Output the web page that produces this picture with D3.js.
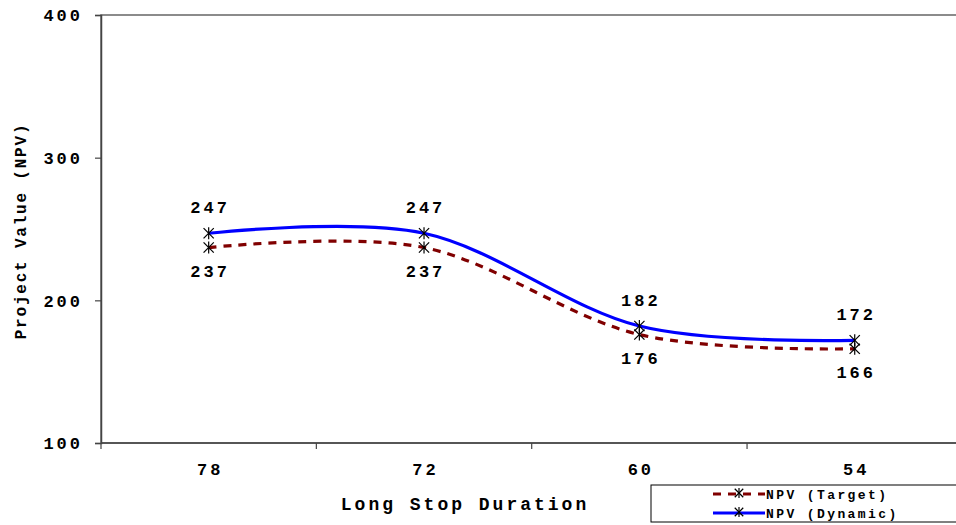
<!DOCTYPE html>
<html>
<head>
<meta charset="utf-8">
<script src="https://cdn.jsdelivr.net/npm/d3@7"></script>
<style>
  html, body { margin: 0; padding: 0; background: #fff; }
  svg { display: block; }
</style>
</head>
<body>
<svg id="chart" width="956" height="525"></svg>
<script>
// Long stop duration scenarios (months) and resulting project NPV
const categories = ["78", "72", "60", "54"];
const npvTarget = [237, 237, 176, 166];
const npvDynamic = [247, 247, 182, 172];
const yTicks = [100, 200, 300, 400];

const FONT = "'Liberation Mono', 'Courier New', Courier, 'DejaVu Sans Mono', monospace";

const svg = d3.select("#chart");
const plot = { left: 101, top: 15, right: 962.4, bottom: 443 };

const x = d3.scaleBand().domain(categories).range([plot.left, plot.right]).padding(0);
const y = d3.scaleLinear().domain([100, 400]).range([plot.bottom, plot.top]);
const cx = c => x(c) + x.bandwidth() / 2;

function styleText(sel, size, spacing) {
  return sel.style("font-family", FONT).style("font-weight", "bold")
    .style("font-size", size + "px").style("letter-spacing", spacing + "px")
    .style("fill", "#000");
}

// plot frame
svg.append("rect")
  .attr("x", plot.left).attr("y", plot.top)
  .attr("width", plot.right - plot.left).attr("height", plot.bottom - plot.top)
  .attr("fill", "none").attr("stroke", "#666").attr("stroke-width", 1.5);

// y axis
const yAxis = svg.append("g").attr("transform", `translate(${plot.left},0)`)
  .call(d3.axisLeft(y).tickValues(yTicks).tickSize(6).tickPadding(12).tickFormat(d3.format("d")));
yAxis.attr("font-family", null).attr("font-size", null);
yAxis.select(".domain").attr("stroke", "#444").attr("stroke-width", 1.5);
yAxis.selectAll(".tick line").attr("stroke", "#444").attr("stroke-width", 1.2);
styleText(yAxis.selectAll(".tick text"), 17, 3).attr("dy", "0.35em");

// x axis: category labels centred in bands, tick marks at band boundaries
const xAxis = svg.append("g").attr("transform", `translate(0,${plot.bottom})`);
xAxis.append("line")
  .attr("x1", plot.left).attr("x2", plot.right).attr("y1", 0).attr("y2", 0)
  .attr("stroke", "#444").attr("stroke-width", 1.5);
const bounds = categories.map(c => x(c)).concat([plot.right]);
xAxis.selectAll("line.bound").data(bounds).join("line").attr("class", "bound")
  .attr("x1", d => d).attr("x2", d => d).attr("y1", 0).attr("y2", 6)
  .attr("stroke", "#444").attr("stroke-width", 1.2);
styleText(xAxis.selectAll("text").data(categories).join("text"), 17, 3)
  .attr("x", d => cx(d) + 1.5).attr("y", 27)
  .attr("text-anchor", "middle").attr("dominant-baseline", "central")
  .text(d => d);

// axis titles
styleText(svg.append("text"), 18, 3)
  .attr("x", 465).attr("y", 505)
  .attr("text-anchor", "middle").attr("dominant-baseline", "central")
  .text("Long Stop Duration");
styleText(svg.append("text"), 16, 1.8)
  .attr("transform", "translate(22,231) rotate(-90)")
  .attr("text-anchor", "middle").attr("dominant-baseline", "central")
  .text("Project Value (NPV)");

// series lines
const line = d3.line()
  .x((d, i) => cx(categories[i]))
  .y(d => y(d))
  .curve(d3.curveCardinal.tension(0));

svg.append("path").datum(npvTarget)
  .attr("d", line).attr("fill", "none")
  .attr("stroke", "#800000").attr("stroke-width", 3.2)
  .attr("stroke-dasharray", "8,7");
svg.append("path").datum(npvDynamic)
  .attr("d", line).attr("fill", "none")
  .attr("stroke", "#0000ff").attr("stroke-width", 3.2);

// asterisk marker
function star(g, px, py, r) {
  const s = g.append("g").attr("transform", `translate(${px},${py})`)
    .attr("stroke", "#000").attr("stroke-width", 1.2);
  s.append("line").attr("x1", 0).attr("y1", -r).attr("x2", 0).attr("y2", r);
  s.append("line").attr("x1", -r * 0.85).attr("y1", -r * 0.85).attr("x2", r * 0.85).attr("y2", r * 0.85);
  s.append("line").attr("x1", -r * 0.85).attr("y1", r * 0.85).attr("x2", r * 0.85).attr("y2", -r * 0.85);
}

const markers = svg.append("g");
categories.forEach((c, i) => {
  star(markers, cx(c), y(npvTarget[i]), 6);
  star(markers, cx(c), y(npvDynamic[i]), 6);
});

// data labels: dynamic above, target below
const labels = svg.append("g");
categories.forEach((c, i) => {
  styleText(labels.append("text"), 17, 3)
    .attr("x", cx(c) + 1.5).attr("y", y(npvDynamic[i]) - 25)
    .attr("text-anchor", "middle").attr("dominant-baseline", "central")
    .text(npvDynamic[i]);
  styleText(labels.append("text"), 17, 3)
    .attr("x", cx(c) + 1.5).attr("y", y(npvTarget[i]) + 25)
    .attr("text-anchor", "middle").attr("dominant-baseline", "central")
    .text(npvTarget[i]);
});

// legend
const lg = svg.append("g");
lg.append("rect").attr("x", 651).attr("y", 485).attr("width", 320).attr("height", 37)
  .attr("fill", "#fff").attr("stroke", "#000").attr("stroke-width", 1);
const legendItems = [
  { name: "NPV (Target)", color: "#800000", dash: "8,7", y: 494 },
  { name: "NPV (Dynamic)", color: "#0000ff", dash: null, y: 513 }
];
legendItems.forEach(it => {
  lg.append("line").attr("x1", 713).attr("x2", 765).attr("y1", it.y).attr("y2", it.y)
    .attr("stroke", it.color).attr("stroke-width", 3.2)
    .attr("stroke-dasharray", it.dash);
  star(lg, 739, it.y - 1, 5);
  styleText(lg.append("text"), 13, 2.4)
    .attr("x", 766).attr("y", it.y + 1)
    .attr("dominant-baseline", "central")
    .text(it.name);
});
</script>
</body>
</html>
